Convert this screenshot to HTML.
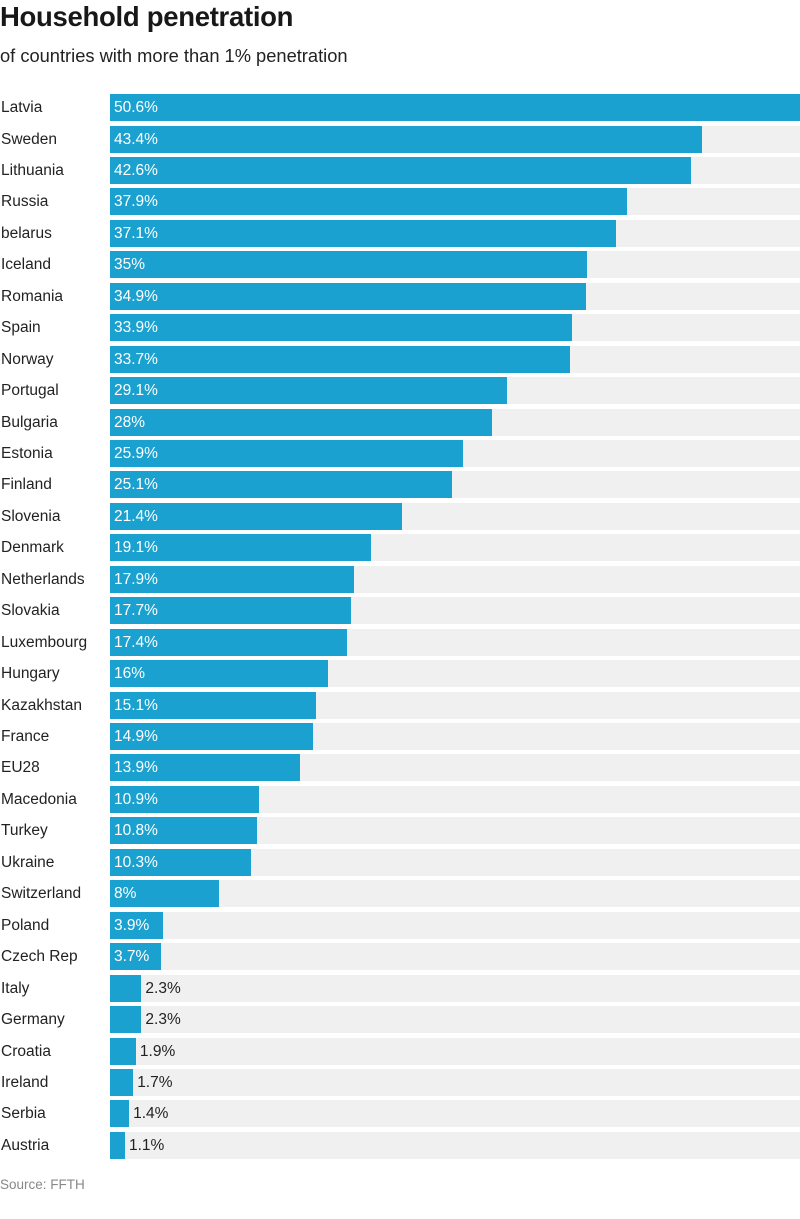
<!DOCTYPE html>
<html><head><meta charset="utf-8"><style>
body{margin:0;width:800px;height:1219px;background:#fff;font-family:"Liberation Sans",Arial,sans-serif;position:relative;overflow:hidden;color:#222}
.t{position:absolute;left:0;top:1px;font-size:27.5px;font-weight:bold;color:#181818;letter-spacing:-0.3px}
.s{position:absolute;left:0;top:45px;font-size:18.3px;color:#222}
.r{position:absolute;left:0;width:800px;height:27px}
.n{position:absolute;left:1px;top:0;line-height:27px;font-size:15.5px;color:#222}
.bg{position:absolute;left:110px;right:0;top:0;height:27px;background:#f0f0f0}
.b{position:absolute;left:110px;top:0;height:27px;background:#1ba1cf}
.v{position:absolute;top:0;line-height:27px;font-size:15.5px}
.src{position:absolute;left:0;top:1177px;font-size:13.5px;color:#888}
</style></head><body>
<div class="t">Household penetration</div>
<div class="s">of countries with more than 1% penetration</div>
<div id="c"></div>
<div class="src">Source: FFTH</div>
<script>
var d=[["Latvia",50.6],["Sweden",43.4],["Lithuania",42.6],["Russia",37.9],["belarus",37.1],["Iceland",35],["Romania",34.9],["Spain",33.9],["Norway",33.7],["Portugal",29.1],["Bulgaria",28],["Estonia",25.9],["Finland",25.1],["Slovenia",21.4],["Denmark",19.1],["Netherlands",17.9],["Slovakia",17.7],["Luxembourg",17.4],["Hungary",16],["Kazakhstan",15.1],["France",14.9],["EU28",13.9],["Macedonia",10.9],["Turkey",10.8],["Ukraine",10.3],["Switzerland",8],["Poland",3.9],["Czech Rep",3.7],["Italy",2.3],["Germany",2.3],["Croatia",1.9],["Ireland",1.7],["Serbia",1.4],["Austria",1.1]];
var h="";
d.forEach(function(e,i){var y=94+i*31.45,w=e[1]*690/50.6;
var inside=e[1]>=3;
h+='<div class="r" style="top:'+y.toFixed(1)+'px"><div class="n">'+e[0]+'</div><div class="bg"></div><div class="b" style="width:'+w.toFixed(1)+'px"></div><div class="v" style="left:'+(inside?114:(110+w+4)).toFixed(1)+'px;color:'+(inside?'#fff':'#222')+'">'+e[1]+'%</div></div>';});
document.getElementById("c").innerHTML=h;
</script>
</body></html>
